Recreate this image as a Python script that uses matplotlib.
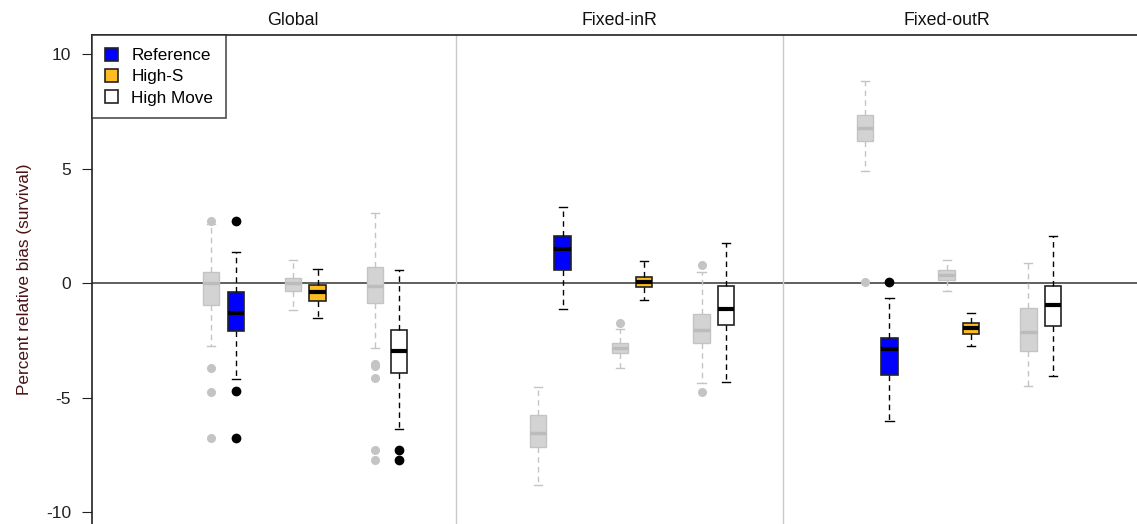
import matplotlib
matplotlib.use("Agg")
import matplotlib.pyplot as plt
from matplotlib.patches import Patch

plt.rcParams["font.family"] = ["Liberation Sans", "DejaVu Sans"]
plt.rcParams["axes.unicode_minus"] = False

panels = ["Global", "Fixed-inR", "Fixed-outR"]
scenarios = ["Reference", "High-S", "High Move"]
colors = ["#0000FF", "#FFBB22", "#FFFFFF"]

# five-number summaries per panel, per scenario: (whislo, q1, med, q3, whishi)
grey_stats = [
    [(-2.75, -0.95, 0.0, 0.48, 2.58), (-1.19, -0.34, 0.0, 0.23, 1.0), (-2.82, -0.89, -0.13, 0.71, 3.04)],
    [(-8.81, -7.16, -6.55, -5.75, -4.56), (-3.7, -3.06, -2.85, -2.6, -1.99), (-4.35, -2.63, -2.04, -1.34, 0.47)],
    [(4.88, 6.21, 6.78, 7.35, 8.82), (-0.34, 0.15, 0.36, 0.57, 1.0), (-4.5, -2.98, -2.13, -1.1, 0.86)],
]
grey_fliers = [
    [[2.72, -3.7, -4.77, -6.78], [], [-3.55, -3.6, -4.16, -7.31, -7.73]],
    [[], [-1.76], [0.8, -4.75]],
    [[0.04], [], []],
]
col_stats = [
    [(-4.2, -2.08, -1.32, -0.39, 1.37), (-1.51, -0.8, -0.38, -0.1, 0.61), (-6.39, -3.92, -2.97, -2.04, 0.57)],
    [(-1.14, 0.57, 1.47, 2.05, 3.32), (-0.76, -0.19, 0.06, 0.28, 0.95), (-4.31, -1.85, -1.14, -0.15, 1.73)],
    [(-6.03, -4.03, -2.9, -2.39, -0.67), (-2.75, -2.23, -1.98, -1.76, -1.3), (-4.06, -1.89, -0.95, -0.13, 2.04)],
]
col_fliers = [
    [[2.71, -4.7, -6.78], [], [-7.31, -7.73]],
    [[], [], []],
    [[0.04], [], []],
]


def to_bxp(s, fl):
    return dict(whislo=s[0], q1=s[1], med=s[2], q3=s[3], whishi=s[4], fliers=fl)


fig = plt.figure(figsize=(11.37, 5.24), dpi=100)
ax = fig.add_axes([92 / 1137, 0, 1 - 92 / 1137, 1 - 35 / 524])

grey = "#d3d3d3"
grey_line = "#c4c4c4"

for p in range(3):
    for s in range(3):
        pos = p * 4 + s + 1
        ax.bxp([to_bxp(grey_stats[p][s], grey_fliers[p][s])], positions=[pos],
               widths=0.2, patch_artist=True, manage_ticks=False,
               boxprops=dict(facecolor=grey, edgecolor=grey_line, linewidth=1),
               medianprops=dict(color="#bcbcbc", linewidth=2.5),
               whiskerprops=dict(color=grey_line, linestyle=(0, (4, 3)), linewidth=1),
               capprops=dict(color=grey_line, linewidth=1),
               flierprops=dict(marker="o", markerfacecolor=grey_line, markeredgecolor=grey_line,
                               markersize=5.5))
        ax.bxp([to_bxp(col_stats[p][s], col_fliers[p][s])], positions=[pos + 0.3],
               widths=0.2, patch_artist=True, manage_ticks=False,
               boxprops=dict(facecolor=colors[s], edgecolor="#222222", linewidth=1.2),
               medianprops=dict(color="black", linewidth=3),
               whiskerprops=dict(color="black", linestyle=(0, (4, 3)), linewidth=1),
               capprops=dict(color="black", linewidth=1),
               flierprops=dict(marker="o", markerfacecolor="black", markeredgecolor="black",
                               markersize=6))
    ax.text(p * 4 + 2, 1.012, panels[p], transform=ax.get_xaxis_transform(),
            ha="center", va="bottom", fontsize=12.8, color="#111111")

ax.axhline(0, color="#444444", linewidth=1.2, zorder=0.5)
for xs in (4, 8):
    ax.axvline(xs, color="#c8c8c8", linewidth=1, zorder=0.5)

ax.set_xlim(-0.46, 12.33)
ax.set_ylim(-10.52, 10.83)
ax.set_xticks([])
ax.set_yticks([-10, -5, 0, 5, 10])
ax.tick_params(axis="y", labelsize=12.5, length=7, direction="out", pad=8, colors="#222222")
ax.set_ylabel("Percent relative bias (survival)", fontsize=12.4, color="#4a1414", labelpad=10)

for side in ("right", "bottom"):
    ax.spines[side].set_visible(False)
for side in ("left", "top"):
    ax.spines[side].set_color("#222222")
    ax.spines[side].set_linewidth(1.2)

handles = [Patch(facecolor=c, edgecolor="#222222", linewidth=1.2) for c in colors]
leg = ax.legend(handles, scenarios, loc="upper left", fontsize=12.3, frameon=True,
                fancybox=False, borderpad=0.75, handlelength=0.8, handleheight=0.8,
                handletextpad=0.75, labelspacing=0.33, borderaxespad=0)
leg.get_frame().set_edgecolor("#222222")
leg.get_frame().set_linewidth(1.2)

fig.savefig("out.png", dpi=100)
